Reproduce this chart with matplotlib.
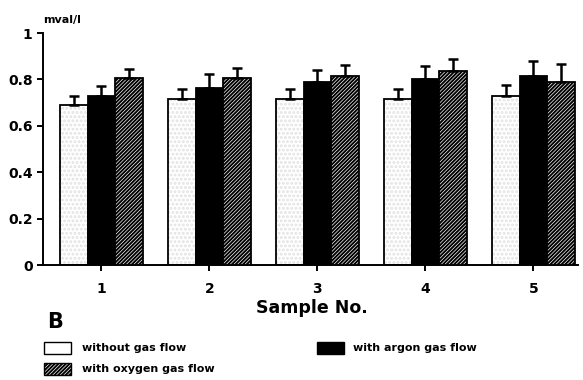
import matplotlib
matplotlib.use("Agg")
import matplotlib.pyplot as plt
import numpy as np
from matplotlib.patches import Rectangle

plt.rcParams['font.family'] = ['DejaVu Sans']
plt.rcParams['font.weight'] = 'bold'
plt.rcParams['hatch.linewidth'] = 1.4

samples = ["1", "2", "3", "4", "5"]
without_gas = [0.69, 0.715, 0.715, 0.715, 0.73]
without_err = [0.04, 0.045, 0.045, 0.045, 0.045]
argon_gas = [0.73, 0.765, 0.79, 0.80, 0.815]
argon_err = [0.04, 0.06, 0.05, 0.06, 0.065]
oxygen_gas = [0.805, 0.805, 0.815, 0.835, 0.79]
oxygen_err = [0.04, 0.043, 0.047, 0.055, 0.075]
yticks = [0, 0.2, 0.4, 0.6, 0.8, 1]
ytick_labels = ["0", "0.2", "0.4", "0.6", "0.8", "1"]
legend_labels = ["without gas flow", "with argon gas flow", "with oxygen gas flow"]

fig = plt.figure(figsize=(5.83, 3.80), dpi=100)
ax = fig.add_axes([0.0738, 0.3026, 0.917, 0.6105])

x = np.arange(len(samples))
w = 0.255
ekw = dict(ecolor='black', elinewidth=1.8, capsize=3.5, capthick=1.8)

def upper(e):
    return [np.zeros(len(e)), e]

# white stippled bars (faint stipple layer, then outline)
ax.bar(x - w, without_gas, w, color='white', edgecolor='#e2e2e2', hatch='....', linewidth=0, zorder=2)
ax.bar(x - w, without_gas, w, fill=False, edgecolor='black', linewidth=1.3, zorder=3,
       yerr=upper(without_err), error_kw=ekw)
ax.bar(x, argon_gas, w, color='black', edgecolor='black', linewidth=1.3, zorder=3,
       yerr=upper(argon_err), error_kw=ekw)
ax.bar(x + w, oxygen_gas, w, color='white', edgecolor='black', hatch='/////////', linewidth=1.3, zorder=3,
       yerr=upper(oxygen_err), error_kw=ekw)

ax.set_xlim(-0.54, 4.41)
ax.set_ylim(0, 1)
ax.set_xticks(x)
ax.set_xticklabels(samples, fontsize=10, fontweight='bold')
ax.set_yticks(yticks)
ax.set_yticklabels(ytick_labels, fontsize=10, fontweight='bold')
for s in ['top', 'right']:
    ax.spines[s].set_visible(False)
for s in ['left', 'bottom']:
    ax.spines[s].set_linewidth(1.4)
ax.tick_params(axis='both', direction='out', length=4, width=1.4)
ax.tick_params(axis='x', pad=8)

fig.text(0.074, 0.948, "mval/l", fontsize=8, fontweight='bold', ha='left', va='center')
fig.text(0.535, 0.19, "Sample No.", fontsize=12.5, fontweight='bold', ha='center', va='center')
fig.text(0.08, 0.153, "B", fontsize=15, fontweight='bold', ha='left', va='center')

# legend
def legend_item(xf, yf, label, fc, hatch=None, tx=0.141):
    r = Rectangle((xf, yf - 0.016), 0.046, 0.032, transform=fig.transFigure,
                  facecolor=fc, edgecolor='black', linewidth=1.0, hatch=hatch)
    fig.add_artist(r)
    fig.text(tx, yf, label, fontsize=8, fontweight='bold', ha='left', va='center')

legend_item(0.075, 0.084, legend_labels[0], 'white')
legend_item(0.544, 0.084, legend_labels[1], 'black', tx=0.605)
legend_item(0.075, 0.029, legend_labels[2], 'white', hatch='/////////')

fig.savefig("out.png", dpi=100)
